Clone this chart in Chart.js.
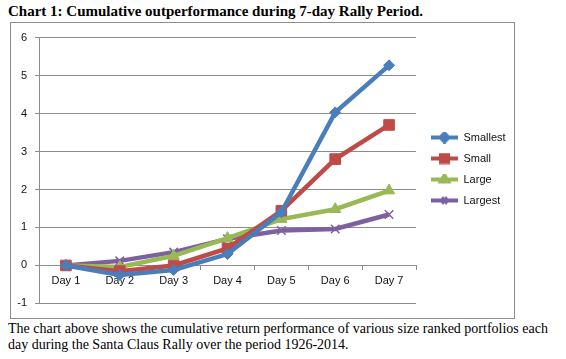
<!DOCTYPE html>
<html><head><meta charset="utf-8">
<script src="https://cdn.jsdelivr.net/npm/chart.js@4"></script>
<style>
html,body{margin:0;padding:0;background:#fff;}
#title{position:absolute;left:8px;top:3px;font:bold 15px "Liberation Serif",serif;color:#000;white-space:nowrap;}
#box{position:absolute;left:10px;top:22px;width:503px;height:295px;border:1px solid #8c8c8c;}
#cap{position:absolute;left:8px;top:321px;font:14px "Liberation Serif",serif;color:#000;line-height:16px;width:560px;}
</style></head><body>
<div id="title">Chart 1: Cumulative outperformance during 7-day Rally Period.</div>
<div id="box"><canvas id="c" width="503" height="295"></canvas></div>
<div id="cap">The chart above shows the cumulative return performance of various size ranked portfolios each day during the Santa Claus Rally over the period 1926-2014.</div>
<script>
const categories = ["Day 1","Day 2","Day 3","Day 4","Day 5","Day 6","Day 7"];
const smallest = [0, -0.25, -0.12, 0.30, 1.40, 4.03, 5.27];
const small    = [0, -0.15, 0.00, 0.45, 1.44, 2.80, 3.70];
const large    = [0, -0.04, 0.25, 0.72, 1.22, 1.48, 1.97];
const largest  = [0, 0.12, 0.35, 0.70, 0.92, 0.96, 1.34];
const seriesNames = ["Smallest","Small","Large","Largest"];
const colors = ["#4a7ebb","#be4b48","#98b954","#7d60a0"];
const styles = ["rectRot","rect","triangle","crossRot"];
const radii = [5.5,7.5,6.5,6];

function legendIcon(i){
  const cv=document.createElement('canvas');cv.width=32;cv.height=12;
  const x=cv.getContext('2d');
  x.strokeStyle=colors[i];x.fillStyle=colors[i];x.lineWidth=4;x.lineCap='butt';
  x.beginPath();x.moveTo(5,6);x.lineTo(32,6);x.stroke();
  Chart.helpers.drawPoint(x,{pointStyle:styles[i],radius:i===1?5:4,borderWidth:1.5},18.5,6);
  return cv;
}
const vals=[smallest,small,large,largest];
const icons=[0,1,2,3].map(legendIcon);
const font={family:'"Liberation Sans",sans-serif',size:11};
new Chart(document.getElementById('c'),{
  type:'line',
  data:{labels:categories,datasets:vals.map((v,i)=>({
    label:seriesNames[i],data:v,borderColor:colors[i],backgroundColor:colors[i],
    borderWidth:4.5,pointStyle:styles[i],pointRadius:radii[i],pointBorderWidth:i===3?1.5:1,
    pointBorderColor:colors[i],pointBackgroundColor:colors[i],tension:0
  }))},
  options:{
    responsive:false,animation:false,
    layout:{padding:{top:11,bottom:14,right:0,left:0}},
    plugins:{
      legend:{position:'right',maxWidth:98,labels:{usePointStyle:true,pointStyleWidth:32,padding:10,
        font:font,color:'#111',
        generateLabels:(ch)=>ch.data.datasets.map((d,i)=>({text:d.label,pointStyle:icons[i],datasetIndex:i,fillStyle:colors[i],strokeStyle:colors[i],lineWidth:0,fontColor:'#111'}))}},
      tooltip:{enabled:false}
    },
    scales:{
      x:{position:{y:0},offset:true,grid:{display:true,drawOnChartArea:false,drawTicks:true,tickLength:4,offset:true,color:'#8c8c8c'},
        border:{color:'#8c8c8c'},
        ticks:{font:font,color:'#111',padding:5,maxRotation:0}},
      y:{min:-1,max:6,afterFit:(s)=>{s.width=28;},ticks:{stepSize:1,font:font,color:'#111',padding:8},
        grid:{color:'#8c8c8c',tickLength:4},border:{color:'#8c8c8c'}}
    }
  }
});
</script>
</body></html>
